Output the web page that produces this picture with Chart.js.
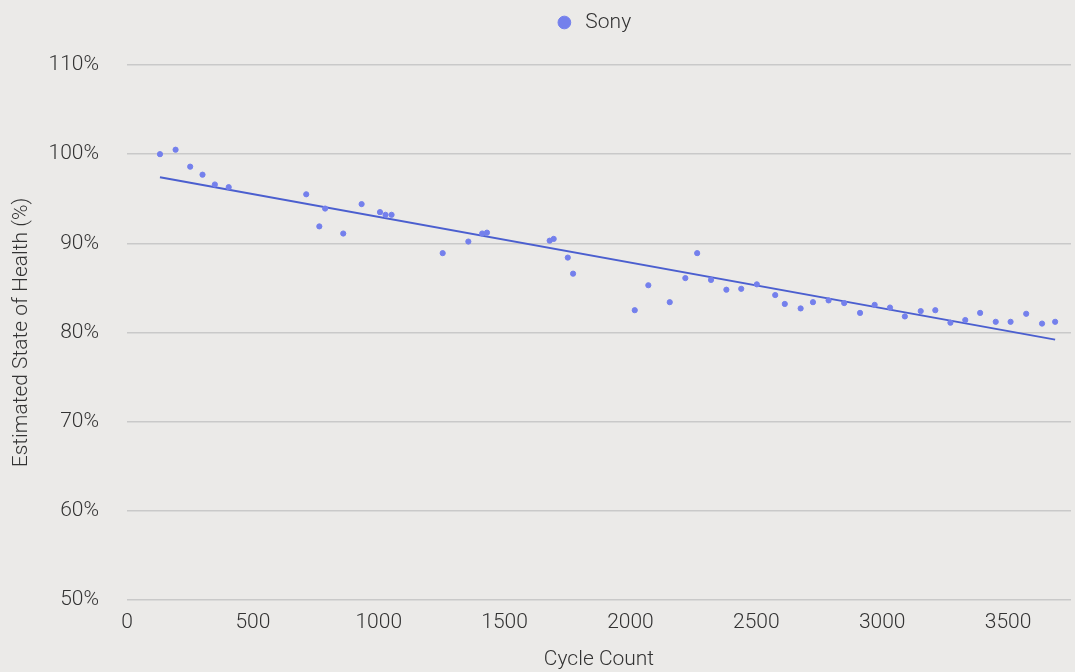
<!DOCTYPE html>
<html>
<head>
<meta charset="utf-8">
<script src="https://cdn.jsdelivr.net/npm/chart.js@4"></script>
<style>
  html, body { margin: 0; padding: 0; background: #ebeae8; }
  #wrap { width: 1075px; height: 672px; }
</style>
</head>
<body>
<div id="wrap"><canvas id="sohChart" width="1075" height="672"></canvas></div>
<script>
// cycle count vs estimated state of health
const cycles = [131, 193, 251, 300, 349, 404, 712, 764, 787, 859, 932, 1005, 1027, 1051,
    1254, 1356, 1411, 1430, 1679, 1695, 1751, 1772, 2017, 2071, 2156, 2218, 2265, 2320,
    2381, 2440, 2502, 2575, 2613, 2676, 2725, 2787, 2849, 2912, 2970, 3031, 3090, 3153,
    3211, 3271, 3330, 3389, 3451, 3510, 3572, 3635, 3687];
const health = [100.0, 100.5, 98.6, 97.7, 96.6, 96.3, 95.5, 91.9, 93.9, 91.1, 94.4, 93.5, 93.2, 93.2,
    88.9, 90.2, 91.1, 91.2, 90.3, 90.5, 88.4, 86.6, 82.5, 85.3, 83.4, 86.1, 88.9, 85.9,
    84.8, 84.9, 85.4, 84.2, 83.2, 82.7, 83.4, 83.6, 83.3, 82.2, 83.1, 82.8, 81.8, 82.4,
    82.5, 81.1, 81.4, 82.2, 81.2, 81.2, 82.1, 81.0, 81.2];

// linear trend line end points
const trendX = [131, 3687];
const trendY = [97.4, 79.2];

const xTicks = [0, 500, 1000, 1500, 2000, 2500, 3000, 3500];
const yTicks = [50, 60, 70, 80, 90, 100, 110];

const textColor = '#333333';
const fontFamily = 'Roboto';
const baseFont = { family: fontFamily, size: 21, weight: 300 };

const points = cycles.map((c, i) => ({ x: c, y: health[i] }));
const trend = trendX.map((c, i) => ({ x: c, y: trendY[i] }));

// push the plot area down below the legend, and nudge the legend to the right
const legendGap = {
    id: 'legendGap',
    beforeInit(chart) {
        const fit = chart.legend.fit;
        chart.legend.fit = function () {
            fit.bind(chart.legend)();
            this.height += 22;
        };
    },
    afterLayout(chart) {
        chart.legend.left += 55;
        chart.legend.right += 55;
    }
};

const ctx = document.getElementById('sohChart').getContext('2d');
const chart = new Chart(ctx, {
    type: 'scatter',
    data: {
        datasets: [{
            label: 'Sony',
            data: points,
            backgroundColor: '#7480ec',
            borderColor: '#7480ec',
            pointRadius: 2.6,
            pointHoverRadius: 3
        }, {
            label: '',
            data: trend,
            showLine: true,
            borderColor: '#4b5fcf',
            borderWidth: 2,
            pointRadius: 0,
            fill: false
        }]
    },
    plugins: [legendGap],
    options: {
        responsive: false,
        animation: false,
        layout: { padding: 0 },
        plugins: {
            legend: {
                position: 'top',
                labels: {
                    usePointStyle: true,
                    boxHeight: 9,
                    boxWidth: 21,
                    padding: 12,
                    color: textColor,
                    font: baseFont,
                    filter: (item) => item.text !== ''
                }
            },
            tooltip: { enabled: false }
        },
        scales: {
            x: {
                type: 'linear',
                min: 0,
                max: 3750,
                afterBuildTicks: (scale) => {
                    scale.ticks = xTicks.map(v => ({ value: v }));
                },
                grid: { display: false, drawTicks: false },
                border: { display: false },
                ticks: {
                    color: textColor,
                    padding: 10,
                    font: baseFont,
                    callback: (v) => String(v)
                },
                title: {
                    display: true,
                    text: 'Cycle Count',
                    color: textColor,
                    padding: { top: 4, bottom: 0 },
                    font: baseFont
                },
                afterFit: (scale) => { scale.height = 72; }
            },
            y: {
                min: 50,
                max: 110,
                afterBuildTicks: (scale) => {
                    scale.ticks = yTicks.map(v => ({ value: v }));
                },
                grid: { color: '#c9c9c9', lineWidth: 1.5, drawTicks: false },
                border: { display: false },
                ticks: {
                    color: textColor,
                    padding: 28,
                    font: baseFont,
                    callback: (v) => v + '%'
                },
                title: {
                    display: true,
                    text: 'Estimated State of Health (%)',
                    color: textColor,
                    padding: { top: 9, bottom: 4 },
                    font: baseFont
                },
                afterFit: (scale) => { scale.width = 127; }
            }
        }
    }
});
</script>
</body>
</html>
